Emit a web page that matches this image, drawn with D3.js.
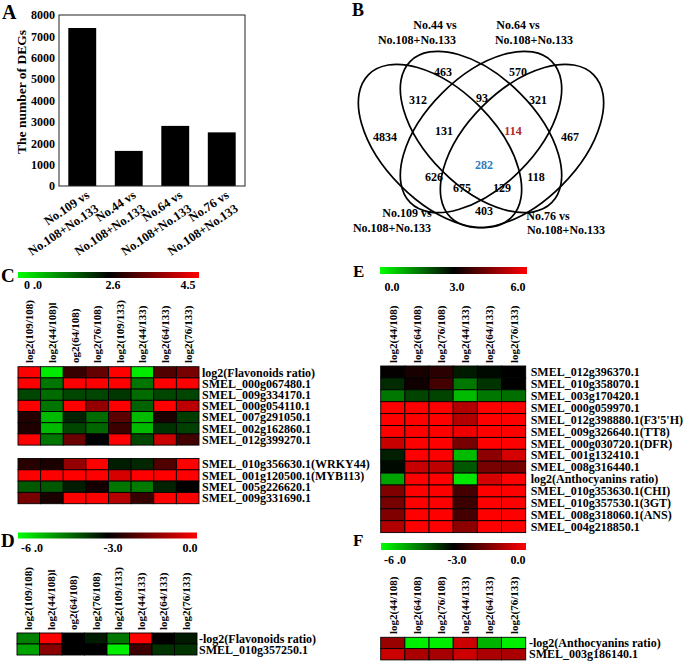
<!DOCTYPE html>
<html><head><meta charset="utf-8">
<script src="https://cdn.jsdelivr.net/npm/d3@7"></script>
<style>
body{margin:0;background:#fff}
svg{display:block}
</style></head><body>
<svg id="fig" width="684" height="664"></svg>
<script>
// ---------------- DATA ----------------
// Panel A
const degComparisons = [["No.109 vs","No.108+No.133"],["No.44 vs","No.108+No.133"],["No.64 vs","No.108+No.133"],["No.76 vs","No.108+No.133"]];
const degCounts = [7392, 1642, 2812, 2509];
const degTicks = [0,1000,2000,3000,4000,5000,6000,7000,8000];
const degAxisTitle = "The number of DEGs";

// Panel B (Venn)
const vennSetLabels = [["No.109 vs","No.108+No.133"],["No.44 vs","No.108+No.133"],["No.64 vs","No.108+No.133"],["No.76 vs","No.108+No.133"]];
const vennRegions = ["A","B","C","D","AB","BC","CD","ABC","BCD","ABCD","AC","BD","ACD","ABD","AD"];
const vennCounts = [4834,463,570,467,312,93,321,131,114,282,626,118,675,129,403];
const vennColors = {"BCD":"#b3262b","ABCD":"#2f7cc0"};

// Panel C
const flavCols = ["log2(109/108)","log2(44/108)l","og2(64/108)","log2(76/108)","log2(109/133)","log2(44/133)","log2(64/133)","log2(76/133)"];
const flavRows1 = ["log2(Flavonoids ratio)","SMEL_000g067480.1","SMEL_009g334170.1","SMEL_000g054110.1","SMEL_007g291050.1","SMEL_002g162860.1","SMEL_012g399270.1"];
const flavValues1 = [
  [4.5,0.2,3.0,3.35,4.5,0.2,3.2,3.5],
  [4.5,1.4,4.5,4.5,4.5,1.4,4.5,4.5],
  [1.9,1.5,1.9,1.9,2.05,1.5,1.9,1.9],
  [4.5,1.4,4.5,3.7,4.5,1.6,4.5,4.0],
  [2.85,0.7,2.25,1.5,3.27,0.7,2.8,2.0],
  [2.82,0.7,1.9,1.55,3.05,0.7,2.1,1.95],
  [4.5,1.4,3.4,2.6,4.5,1.9,4.1,3.1]];
const flavRows2 = ["SMEL_010g356630.1(WRKY44)","SMEL_001g120500.1(MYB113)","SMEL_005g226620.1","SMEL_009g331690.1"];
const flavValues2 = [
  [2.9,2.8,3.7,4.5,2.3,2.2,3.2,4.5],
  [4.5,4.5,4.5,4.5,4.2,4.5,4.5,4.5],
  [1.7,1.7,2.3,2.75,1.4,1.35,2.25,2.6],
  [3.5,2.8,4.5,4.5,3.95,3.0,4.5,4.5]];
const flavDomain = [0,2.6,4.5];
const flavTickLabels = ["0 .0","2.6","4.5"];

// Panel D
const flavNegRows = ["-log2(Flavonoids ratio)","SMEL_010g357250.1"];
const flavNegValues = [
  [-4.5,0,-3.0,-3.3,-4.4,0,-2.95,-3.3],
  [-4.9,-1.4,-3.0,-3.0,-5.8,-2.3,-3.6,-3.6]];
const negDomain = [-6,-3,0];
const negTickLabels = ["-6 .0","-3.0","0.0"];

// Panel E
const anthCols = ["log2(44/108)","log2(64/108)","log2(76/108)","log2(44/133)","log2(64/133)","log2(76/133)"];
const anthRows = ["SMEL_012g396370.1","SMEL_010g358070.1","SMEL_003g170420.1","SMEL_000g059970.1","SMEL_012g398880.1(F3'5'H)","SMEL_009g326640.1(TT8)","SMEL_000g030720.1(DFR)","SMEL_001g132410.1","SMEL_008g316440.1","log2(Anthocyanins ratio)","SMEL_010g353630.1(CHI)","SMEL_010g357530.1(3GT)","SMEL_008g318060.1(ANS)","SMEL_004g218850.1"];
const anthValues = [
  [3.05,3.3,3.5,2.7,2.9,3.0],
  [2.5,3.2,3.8,1.6,2.4,3.0],
  [1.6,2.2,2.2,0.8,1.6,1.7],
  [6,6,6,5.1,6,6],
  [6,6,6,5.1,6,6],
  [6,6,6,5.8,6,6],
  [5.35,6,6,4.4,6,6],
  [2.65,6,6,0.8,4.65,5.5],
  [2.9,5.35,5.25,1.95,4.4,4.4],
  [1.1,6,6,0.3,5.5,6],
  [4.5,6,6,3.8,6,6],
  [4.4,6,6,3.7,6,6],
  [4.5,6,6,3.8,6,6],
  [5.1,6,6,4.65,6,6]];
const anthDomain = [0,3,6];
const anthTickLabels = ["0.0","3.0","6.0"];

// Panel F
const anthNegRows = ["-log2(Anthocyanins ratio)","SMEL_003g186140.1"];
const anthNegValues = [
  [-1.2,-5.8,-5.8,-0.6,-5.1,-5.8],
  [-0.6,-1.0,-1.05,-0.6,-1.0,-1.0]];

// ---------------- DRAWING ----------------
const FONT = "'Liberation Serif','Times New Roman',serif";
const svg = d3.select("#fig").attr("font-family", FONT).attr("font-weight","bold");
const defs = svg.append("defs");

function txt(g, x, y, s, size, anchor){
  return g.append("text").attr("x",x).attr("y",y).attr("font-size",size)
    .attr("text-anchor",anchor||"start").attr("fill","#000").text(s);
}

// Panel letters
[["A",2,19,20],["B",352,16,18],["C",1,282,19],["D",1,547,19],["E",353,277,17],["F",353,546,17]]
  .forEach(p => txt(svg,p[1],p[2],p[0],p[3]));

// ---- Panel A ----
const gA = svg.append("g");
const xA = d3.scaleBand().domain(d3.range(degCounts.length)).range([59,245]).paddingInner(0.4).paddingOuter(0.2);
const yA = d3.scaleLinear().domain([0,8000]).range([186,15]);
gA.selectAll("rect.bar").data(degCounts).join("rect").attr("class","bar")
  .attr("x",(d,i)=>xA(i)).attr("y",d=>yA(d)).attr("width",xA.bandwidth())
  .attr("height",d=>yA(0)-yA(d)).attr("fill","#000");
gA.append("rect").attr("x",59).attr("y",15).attr("width",186).attr("height",171)
  .attr("fill","none").attr("stroke","#222").attr("stroke-width",1);
const axA = gA.append("g").attr("transform","translate(59,0)")
  .call(d3.axisLeft(yA).tickValues(degTicks).tickSize(0).tickPadding(4).tickFormat(d3.format("d")));
axA.select(".domain").remove();
axA.selectAll("text").attr("font-family",FONT).attr("font-weight","bold").attr("font-size",12).attr("fill","#000");
txt(gA,0,0,degAxisTitle,13.5,"middle").attr("transform","translate(26,92) rotate(-90)");
degComparisons.forEach((lab,i)=>{
  const t = gA.append("text").attr("font-size",12.5).attr("text-anchor","end")
    .attr("transform",`translate(${xA(i)+xA.bandwidth()/2+8},197) rotate(-34)`);
  lab.forEach((l,j)=>t.append("tspan").attr("x",0).attr("dy",j?"1.3em":0).text(l));
});

// ---- Panel B (Venn) ----
const gB = svg.append("g");
const vennEllipses = [
  {cx:440, cy:146, rx:101, ry:56, rot:45},
  {cx:481, cy:132, rx:100, ry:55, rot:45},
  {cx:481, cy:132, rx:100, ry:55, rot:-45},
  {cx:522, cy:146, rx:101, ry:56, rot:-45}];
gB.selectAll("ellipse").data(vennEllipses).join("ellipse")
  .attr("cx",0).attr("cy",0).attr("rx",d=>d.rx).attr("ry",d=>d.ry)
  .attr("transform",d=>`translate(${d.cx},${d.cy}) rotate(${d.rot})`)
  .attr("fill","none").attr("stroke","#000").attr("stroke-width",1.7);
const vennPos = {A:[385,137],B:[443,72],C:[518,72],D:[570,137],AB:[418,100],BC:[482,98],CD:[538,100],
  ABC:[444,131],BCD:[513,131],ABCD:[484,165],AC:[434,177],BD:[536,177],ACD:[462,188],ABD:[502,188],AD:[484,211]};
vennRegions.forEach((r,i)=>{
  txt(gB,vennPos[r][0],vennPos[r][1]+4,vennCounts[i],12,"middle").attr("fill",vennColors[r]||"#000");
});
const vennLabelPos = [[[407,217],[392,232]],[[435,29],[417,44]],[[518,29],[534,44]],[[548,220],[566,234]]];
vennSetLabels.forEach((lab,i)=>lab.forEach((l,j)=>txt(gB,vennLabelPos[i][j][0],vennLabelPos[i][j][1],l,12,"middle")));

// ---- Heatmap helpers ----
function colorScale(domain){
  return d3.scaleLinear().domain(domain).range(["#00ff00","#000000","#ff0000"]).clamp(true);
}
let gradId = 0;
function colorbar(x,y,w,h){
  const id = "grad"+(gradId++);
  const lg = defs.append("linearGradient").attr("id",id).attr("x1","0%").attr("x2","100%");
  [["0%","#00ff00"],["50%","#000000"],["100%","#ff0000"]].forEach(s=>lg.append("stop").attr("offset",s[0]).attr("stop-color",s[1]));
  svg.append("rect").attr("x",x).attr("y",y).attr("width",w).attr("height",h).attr("fill",`url(#${id})`);
}
function tickLabels(labels, xs, y){
  labels.forEach((l,i)=>txt(svg,xs[i],y,l,12,"middle"));
}
function headers(cols, xs, yBottom){
  cols.forEach(c=>{
    svg.append("text").attr("font-size",11).attr("text-anchor","start")
      .attr("transform",`translate(${xs(c)+xs.bandwidth()/2+4},${yBottom}) rotate(-90)`).text(c);
  });
}
function block(cols, xs, rows, values, y0, rowH, color, labelX){
  const ys = d3.scaleBand().domain(d3.range(rows.length)).range([y0, y0+rowH*rows.length]);
  const g = svg.append("g");
  values.forEach((row,ri)=>{
    g.selectAll(null).data(row).join("rect")
      .attr("x",(d,ci)=>xs(cols[ci])).attr("y",ys(ri))
      .attr("width",xs.bandwidth()).attr("height",ys.bandwidth())
      .attr("fill",d=>color(d)).attr("stroke","#000").attr("stroke-width",0.9);
  });
  rows.forEach((r,ri)=>txt(svg,labelX,ys(ri)+ys.bandwidth()/2+4.2,r,12));
}

// ---- Panel C ----
const xC = d3.scaleBand().domain(flavCols).range([18,199]);
const colC = colorScale(flavDomain);
colorbar(18,272,181,6);
tickLabels(flavTickLabels,[33,113,188],289);
headers(flavCols,xC,363);
block(flavCols,xC,flavRows1,flavValues1,366.7,11.2,colC,202);
block(flavCols,xC,flavRows2,flavValues2,458.5,11.3,colC,202);

// ---- Panel D ----
const xD = d3.scaleBand().domain(flavCols).range([17,197]);
const colD = colorScale(negDomain);
colorbar(18,532.5,179,6);
tickLabels(negTickLabels,[32,113,190],552);
headers(flavCols,xD,630);
block(flavCols,xD,flavNegRows,flavNegValues,633,11,colD,199);

// ---- Panel E ----
const xE = d3.scaleBand().domain(anthCols).range([380.7,525.7]);
const colE = colorScale(anthDomain);
colorbar(380,267,147,7);
tickLabels(anthTickLabels,[392,457,518],291);
headers(anthCols,xE,363);
block(anthCols,xE,anthRows,anthValues,366,11.9,colE,530.7);

// ---- Panel F ----
const xF = d3.scaleBand().domain(anthCols).range([380.7,525.7]);
const colF = colorScale(negDomain);
colorbar(381,543,145,7);
tickLabels(negTickLabels,[395,457,518],564);
headers(anthCols,xF,634);
block(anthCols,xF,anthNegRows,anthNegValues,637.3,11.3,colF,529);
</script>
</body></html>
